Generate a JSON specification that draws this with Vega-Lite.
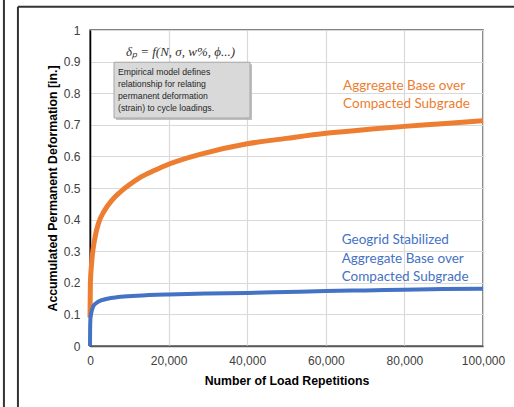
{
  "$schema": "https://vega.github.io/schema/vega-lite/v6.json",
  "width": 393,
  "height": 316,
  "autosize": {"type": "none"},
  "padding": {"left": 90, "top": 30, "right": 31, "bottom": 61},
  "background": "white",
  "config": {
    "view": {"stroke": "#595959", "strokeWidth": 1.5},
    "font": "Liberation Sans"
  },
  "datasets": {
    "aggregate": [
      {"N": 0, "v": 0.09}, {"N": 100, "v": 0.2}, {"N": 400, "v": 0.26}, {"N": 1300, "v": 0.345},
      {"N": 2200, "v": 0.39}, {"N": 3500, "v": 0.425}, {"N": 5500, "v": 0.46}, {"N": 7500, "v": 0.485},
      {"N": 10000, "v": 0.51}, {"N": 13000, "v": 0.535}, {"N": 16500, "v": 0.556},
      {"N": 20000, "v": 0.575}, {"N": 28500, "v": 0.608}, {"N": 40000, "v": 0.64}, {"N": 50000, "v": 0.657},
      {"N": 60000, "v": 0.673}, {"N": 71000, "v": 0.686}, {"N": 80000, "v": 0.695}, {"N": 90500, "v": 0.704},
      {"N": 100000, "v": 0.713}
    ],
    "geogrid": [
      {"N": 0, "v": 0.0}, {"N": 30, "v": 0.05}, {"N": 100, "v": 0.085}, {"N": 170, "v": 0.095},
      {"N": 850, "v": 0.126}, {"N": 1500, "v": 0.135}, {"N": 3000, "v": 0.145}, {"N": 7200, "v": 0.155},
      {"N": 12000, "v": 0.159}, {"N": 20000, "v": 0.163}, {"N": 30000, "v": 0.166}, {"N": 40000, "v": 0.168},
      {"N": 50000, "v": 0.171}, {"N": 60000, "v": 0.174}, {"N": 70000, "v": 0.176}, {"N": 80000, "v": 0.178},
      {"N": 90000, "v": 0.18}, {"N": 100000, "v": 0.181}
    ],
    "frame": [
      {"N": -21900, "N2": -21900, "v": 1.2, "v2": -0.3},
      {"N": -18335, "N2": -18335, "v": 1.0736, "v2": -0.3},
      {"N": -18335, "N2": 115000, "v": 1.0736, "v2": 1.0736}
    ],
    "shadow": [{"N": 6617, "N2": 41229, "v": 0.8917, "v2": 0.7152}],
    "box": [{"N": 6108, "N2": 40720, "v": 0.898, "v2": 0.7215}],
    "formula": [{"N": 23030, "v": 0.93, "text": "δₚ = f(N, σ, w%, ϕ...)"}],
    "boxtext": [
      {"N": 7126, "v": 0.867, "text": "Empirical model defines"},
      {"N": 7126, "v": 0.829, "text": "relationship  for relating"},
      {"N": 7126, "v": 0.791, "text": "permanent  deformation"},
      {"N": 7126, "v": 0.753, "text": "(strain) to cycle loadings."}
    ],
    "orangelabel": [
      {"N": 64400, "v": 0.823, "text": "Aggregate Base over"},
      {"N": 64400, "v": 0.765, "text": "Compacted Subgrade"}
    ],
    "bluelabel": [
      {"N": 64050, "v": 0.336, "text": "Geogrid Stabilized"},
      {"N": 64050, "v": 0.276, "text": "Aggregate Base over"},
      {"N": 64050, "v": 0.219, "text": "Compacted Subgrade"}
    ]
  },
  "encoding": {
    "x": {
      "field": "N", "type": "quantitative",
      "scale": {"domain": [0, 100000], "nice": false, "zero": false},
      "title": "Number of Load Repetitions",
      "axis": {
        "labelExpr": "format(datum.value, ',')", "values": [0, 20000, 40000, 60000, 80000, 100000],
        "ticks": false, "labelFlush": false, "labelPadding": 9, "labelFontSize": 12, "labelColor": "#404040",
        "labelFont": "Liberation Sans", "titleFont": "Liberation Sans",
        "titleFontSize": 12.3, "titleFontWeight": "bold", "titleColor": "#000000",
        "titleBaseline": "middle", "titleY": 34,
        "gridColor": "#d9d9d9", "gridWidth": 1.2, "domainColor": "#595959", "domainWidth": 1.5
      }
    },
    "y": {
      "field": "v", "type": "quantitative",
      "scale": {"domain": [0, 1], "nice": false},
      "title": "Accumulated Permanent Deformation [in.]",
      "axis": {
        "labelExpr": "format(datum.value, '.1~f')", "values": [0, 0.1, 0.2, 0.3, 0.4, 0.5, 0.6, 0.7, 0.8, 0.9, 1],
        "ticks": false, "labelFlush": false, "labelPadding": 10, "labelFontSize": 12, "labelColor": "#404040",
        "labelFont": "Liberation Sans", "titleFont": "Liberation Sans",
        "titleFontSize": 12.3, "titleFontWeight": "bold", "titleColor": "#000000",
        "titleBaseline": "middle", "titleX": -38,
        "gridColor": "#d9d9d9", "gridWidth": 1.2, "domainColor": "#000000", "domainWidth": 1.5
      }
    }
  },
  "layer": [
    {
      "data": {"name": "aggregate"},
      "mark": {"type": "line", "interpolate": "monotone", "strokeWidth": 5, "color": "#ED7D31", "strokeCap": "butt"}
    },
    {
      "data": {"name": "geogrid"},
      "mark": {"type": "line", "interpolate": "monotone", "strokeWidth": 4, "color": "#4472C4", "strokeCap": "butt"}
    },
    {
      "data": {"name": "shadow"},
      "mark": {"type": "rect", "color": "#b0b0b0", "opacity": 0.8},
      "encoding": {"x2": {"field": "N2"}, "y2": {"field": "v2"}}
    },
    {
      "data": {"name": "box"},
      "mark": {"type": "rect", "fill": "#d9d9d9", "stroke": "#a6a6a6", "strokeWidth": 1},
      "encoding": {"x2": {"field": "N2"}, "y2": {"field": "v2"}}
    },
    {
      "data": {"name": "formula"},
      "mark": {"type": "text", "font": "Liberation Serif", "fontStyle": "italic", "fontSize": 13, "color": "#333333", "align": "center", "baseline": "middle"},
      "encoding": {"text": {"field": "text"}}
    },
    {
      "data": {"name": "boxtext"},
      "mark": {"type": "text", "font": "Liberation Sans", "fontSize": 8.7, "color": "#262626", "align": "left", "baseline": "middle"},
      "encoding": {"text": {"field": "text"}}
    },
    {
      "data": {"name": "orangelabel"},
      "mark": {"type": "text", "font": "Lato", "fontSize": 13.5, "color": "#ED7D31", "align": "left", "baseline": "middle"},
      "encoding": {"text": {"field": "text"}}
    },
    {
      "data": {"name": "bluelabel"},
      "mark": {"type": "text", "font": "Lato", "fontSize": 13.5, "color": "#4472C4", "align": "left", "baseline": "middle"},
      "encoding": {"text": {"field": "text"}}
    },
    {
      "data": {"name": "frame"},
      "mark": {"type": "rule", "color": "#333333", "strokeWidth": 2, "clip": false},
      "encoding": {"x2": {"field": "N2"}, "y2": {"field": "v2"}}
    }
  ]
}
